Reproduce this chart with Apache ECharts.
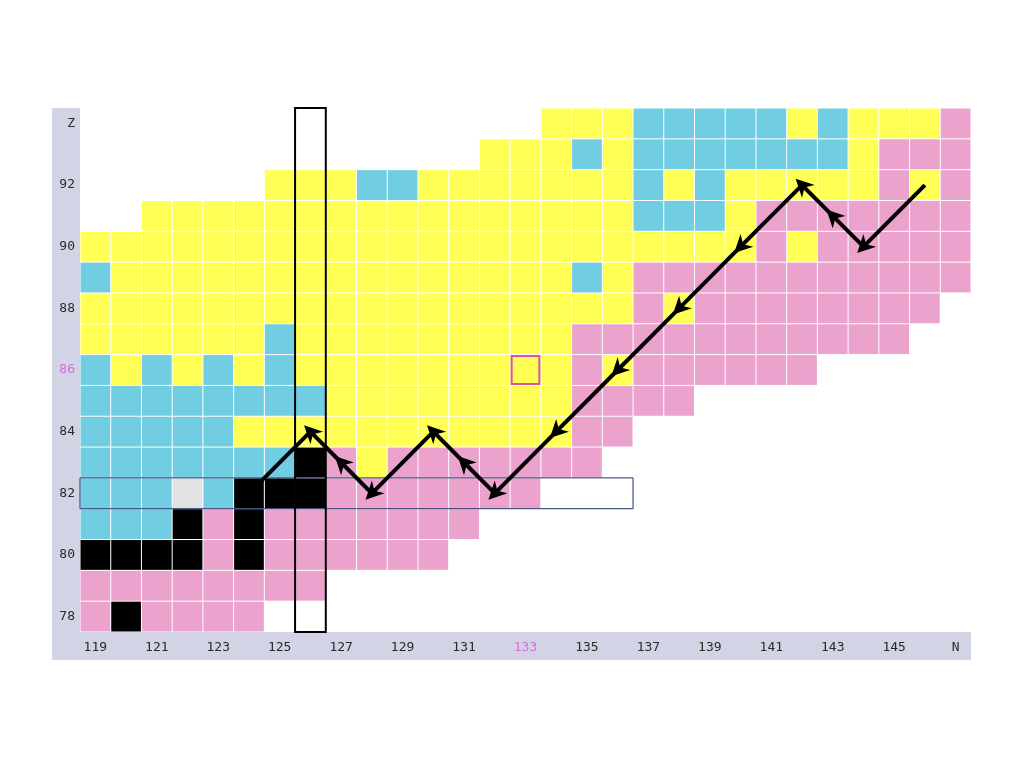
<!DOCTYPE html>
<html>
<head>
<meta charset="utf-8">
<script src="https://cdn.jsdelivr.net/npm/echarts@6/dist/echarts.min.js"></script>
<style>
html,body{margin:0;padding:0;background:#fff;}
#main{width:1024px;height:768px;}
</style>
</head>
<body>
<div id="main"></div>
<script>
// Neutron numbers (x categories) and proton numbers (y categories)
const nValues = ['119','120','121','122','123','124','125','126','127','128','129','130','131','132','133','134','135','136','137','138','139','140','141','142','143','144','145','146','147'];
const zValues = ['78','79','80','81','82','83','84','85','86','87','88','89','90','91','92','93','94'];
// Tick label replacements
const xLastLabel = 'N';
const yLastLabel = 'Z';
const highlightN = '133';
const highlightZ = '86';

// Cell types per row (Z = 78 ... 94), one char per N = 119 ... 147
// Y = yellow, B = blue, P = pink, K = black, G = grey, . = empty
const cellRows = [
  'PKPPPP.......................', // 78
  'PPPPPPPP.....................', // 79
  'KKKKPKPPPPPP.................', // 80
  'BBBKPKPPPPPPP................', // 81
  'BBBGBKKKPPPPPPP..............', // 82
  'BBBBBBBKPYPPPPPPP............', // 83
  'BBBBBYYYYYYYYYYYPP...........', // 84
  'BBBBBBBBYYYYYYYYPPPP.........', // 85
  'BYBYBYBYYYYYYYYYPYPPPPPP.....', // 86
  'YYYYYYBYYYYYYYYYPPPPPPPPPPP..', // 87
  'YYYYYYYYYYYYYYYYYYPYPPPPPPPP.', // 88
  'BYYYYYYYYYYYYYYYBYPPPPPPPPPPP', // 89
  'YYYYYYYYYYYYYYYYYYYYYYPYPPPPP', // 90
  '..YYYYYYYYYYYYYYYYBBBYPPPPPPP', // 91
  '......YYYBBYYYYYYYBYBYYYYYPYP', // 92
  '.............YYYBYBBBBBBBYPPP', // 93
  '...............YYYBBBBBYBYYYP'  // 94
];
const typeCodes = ['Y', 'B', 'P', 'K', 'G'];
const typeColors = ['#ffff55', '#70cde2', '#eba2cd', '#000000', '#e2e2e2'];

// Decay chain nuclides [N, Z] (arrows go from each to the next)
const chainN = ['146','144','143','142','140','138','136','134','132','131','130','128','127','126','124'];
const chainZ = ['92','90','91','92','90','88','86','84','82','83','84','82','83','84','82'];

// Outline boxes: [N from, Z from, N to, Z to]
const columnBox = ['126', '78', '126', '94'];
const rowBox = ['119', '82', '136', '82'];
const markBox = ['133', '86', '133', '86'];

const cellData = [];
cellRows.forEach(function (row, zi) {
  for (let ni = 0; ni < row.length; ni++) {
    const t = typeCodes.indexOf(row[ni]);
    if (t >= 0) cellData.push([ni, zi, t]);
  }
});

const arrowData = [];
for (let i = 0; i + 1 < chainN.length; i++) {
  arrowData.push({ coords: [
    [nValues.indexOf(chainN[i]), zValues.indexOf(chainZ[i])],
    [nValues.indexOf(chainN[i + 1]), zValues.indexOf(chainZ[i + 1])]
  ] });
}

function boxItem(b, color, width, inset) {
  return {
    value: [nValues.indexOf(b[0]), zValues.indexOf(b[1]), nValues.indexOf(b[2]), zValues.indexOf(b[3])],
    stroke: color, lw: width, inset: inset
  };
}
const boxes = [
  boxItem(rowBox, '#22336b', 1, 0),
  boxItem(columnBox, '#000000', 2, 0),
  boxItem(markBox, '#e0509e', 2, 1.5)
];

const chart = echarts.init(document.getElementById('main'), null, { renderer: 'canvas' });

const labelFont = { fontFamily: 'DejaVu Sans Mono', fontSize: 13, color: '#2a2a2a' };

chart.setOption({
  backgroundColor: '#ffffff',
  animation: false,
  grid: [
    { left: 52, top: 108, right: 53, bottom: 108, show: true, backgroundColor: '#d3d3e6', borderWidth: 0, z: 0 },
    { left: 80, top: 108, right: 53, bottom: 136, show: true, backgroundColor: '#ffffff', borderWidth: 0, z: 1 }
  ],
  xAxis: [
    { gridIndex: 0, type: 'category', data: nValues, show: false },
    {
      gridIndex: 1, type: 'category', data: nValues, boundaryGap: true,
      axisLine: { show: false }, axisTick: { show: false }, splitLine: { show: false },
      axisLabel: Object.assign({}, labelFont, {
        interval: 1, margin: 9,
        formatter: function (v, idx) {
          if (idx === nValues.length - 1) return xLastLabel;
          if (v === highlightN) return '{m|' + v + '}';
          return v;
        },
        rich: { m: { color: '#e066e0', fontFamily: 'DejaVu Sans Mono', fontSize: 13 } }
      })
    }
  ],
  yAxis: [
    { gridIndex: 0, type: 'category', data: zValues, show: false },
    {
      gridIndex: 1, type: 'category', data: zValues, boundaryGap: true,
      axisLine: { show: false }, axisTick: { show: false }, splitLine: { show: false },
      axisLabel: Object.assign({}, labelFont, {
        interval: 1, margin: 5,
        formatter: function (v, idx) {
          if (idx === zValues.length - 1) return yLastLabel;
          if (v === highlightZ) return '{m|' + v + '}';
          return v;
        },
        rich: { m: { color: '#e066e0', fontFamily: 'DejaVu Sans Mono', fontSize: 13 } }
      })
    }
  ],
  series: [
    {
      type: 'custom', xAxisIndex: 1, yAxisIndex: 1, z: 2,
      data: cellData,
      renderItem: function (params, api) {
        const c = api.coord([api.value(0), api.value(1)]);
        const s = api.size([1, 1]);
        return {
          type: 'rect',
          shape: { x: c[0] - s[0] / 2 + 0.5, y: c[1] - s[1] / 2 + 0.5, width: s[0] - 1, height: s[1] - 1 },
          style: { fill: typeColors[api.value(2)] }
        };
      }
    },
    {
      type: 'custom', xAxisIndex: 1, yAxisIndex: 1, z: 3,
      data: boxes,
      renderItem: function (params, api) {
        const b = boxes[params.dataIndex];
        const p1 = api.coord([api.value(0), api.value(1)]);
        const p2 = api.coord([api.value(2), api.value(3)]);
        const s = api.size([1, 1]);
        const x0 = Math.min(p1[0], p2[0]) - s[0] / 2 + b.inset;
        const x1 = Math.max(p1[0], p2[0]) + s[0] / 2 - b.inset;
        const y0 = Math.min(p1[1], p2[1]) - s[1] / 2 + b.inset;
        const y1 = Math.max(p1[1], p2[1]) + s[1] / 2 - b.inset;
        return {
          type: 'rect',
          shape: { x: x0, y: y0, width: x1 - x0, height: y1 - y0 },
          style: { fill: 'none', stroke: b.stroke, lineWidth: b.lw }
        };
      }
    },
    {
      type: 'lines', coordinateSystem: 'cartesian2d', xAxisIndex: 1, yAxisIndex: 1, z: 4,
      symbol: ['none', 'path://M0,-10 L8,10 L0,4 L-8,10 Z'], symbolSize: 18,
      lineStyle: { color: '#000000', width: 4, opacity: 1 },
      data: arrowData
    }
  ]
});
</script>
</body>
</html>
